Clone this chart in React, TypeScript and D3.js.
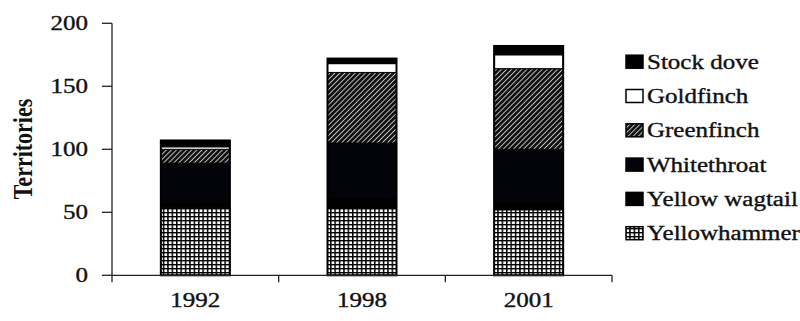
import React from 'react';
import * as d3 from 'd3';

// Breeding territories per species, stacked bottom to top
const categories = ['1992', '1998', '2001'];
const yellowhammer = [54, 53, 52];
const yellowWagtail = [4, 8, 6];
const whitethroat = [31, 44, 42];
const greenfinch = [11, 56, 64];
const goldfinch = [2, 7, 11];
const stockDove = [5, 4, 7];
const yTicks = [0, 50, 100, 150, 200];

const seriesKeys = ['Yellowhammer', 'Yellow wagtail', 'Whitethroat', 'Greenfinch', 'Goldfinch', 'Stock dove'];
const seriesValues = [yellowhammer, yellowWagtail, whitethroat, greenfinch, goldfinch, stockDove];
const seriesFill: Record<string, string> = {
  'Yellowhammer': 'url(#grid)',
  'Yellow wagtail': '#000',
  'Whitethroat': '#03030a',
  'Greenfinch': 'url(#hatch)',
  'Goldfinch': '#fff',
  'Stock dove': '#000',
};

const W = 800;
const H = 321;
const SX = 1.25; // horizontal glyph stretch
const FONT = '"Liberation Serif", "Times New Roman", serif';
const TEXT_STROKE = { stroke: '#111', strokeWidth: 0.35 };

export default function App() {
  const rows = categories.map((c, i) => {
    const r: Record<string, number | string> = { year: c };
    seriesKeys.forEach((k, j) => (r[k] = seriesValues[j][i]));
    return r;
  });
  const stacked = d3.stack<any>().keys(seriesKeys)(rows as any);

  const x = d3.scaleBand<string>().domain(categories).range([112, 612]).paddingInner(0.586).paddingOuter(0.293);
  const y = d3.scaleLinear().domain([0, 200]).range([275.3, 23.3]);

  const step = x.step();
  const boundaries = d3.range(categories.length + 1).map((i) => 112 + i * step);

  const legendItems = [...seriesKeys].reverse();

  return (
    <svg width={W} height={H} style={{ position: 'absolute', left: 0, top: 0, background: '#fff' }}>
      <defs>
        <pattern id="grid" patternUnits="userSpaceOnUse" width={4.4} height={4} x={0} y={0}>
          <rect width={4.4} height={4} fill="#fff" />
          <rect width={1.5} height={4} fill="#000" />
          <rect width={4.4} height={1.4} fill="#000" />
        </pattern>
        <pattern id="hatch" patternUnits="userSpaceOnUse" width={3.6} height={3.6} patternTransform="rotate(45)">
          <rect width={3.6} height={3.6} fill="#111" />
          <rect width={0.9} height={3.6} fill="#c8c8c8" />
        </pattern>
      </defs>

      {/* y axis */}
      <line x1={112} x2={112} y1={y(200)} y2={y(0)} stroke="#222" strokeWidth={1.3} />
      {yTicks.map((t) => (
        <g key={t}>
          <line x1={102} x2={112} y1={y(t)} y2={y(t)} stroke="#222" strokeWidth={1.3} />
          <g transform={`translate(88,${y(t) + 7}) scale(${SX},1)`}>
            <text textAnchor="end" fontFamily={FONT} fontSize={20} fill="#111" {...TEXT_STROKE}>{t}</text>
          </g>
        </g>
      ))}
      <g transform={`translate(32,149) scale(${SX},1) rotate(-90)`}>
        <text textAnchor="middle" fontFamily={FONT} fontSize={22} fontWeight="bold" fill="#111">Territories</text>
      </g>

      {/* stacked bars */}
      {stacked.map((s) => (
        <g key={s.key}>
          {s.map((d, i) => (
            <rect
              key={i}
              x={x(categories[i])}
              width={x.bandwidth()}
              y={y(d[1])}
              height={y(d[0]) - y(d[1])}
              fill={seriesFill[s.key]}
              stroke="#000"
              strokeWidth={1}
            />
          ))}
        </g>
      ))}
      {categories.map((c, i) => {
        const total = d3.sum(seriesValues, (v) => v[i]);
        return (
          <rect key={c} x={x(c)} width={x.bandwidth()} y={y(total)} height={y(0) - y(total)}
            fill="none" stroke="#000" strokeWidth={2} />
        );
      })}

      {/* x axis */}
      <line x1={112} x2={612} y1={y(0)} y2={y(0)} stroke="#222" strokeWidth={1.3} />
      {boundaries.map((b, i) => (
        <line key={i} x1={b} x2={b} y1={y(0)} y2={y(0) + 7} stroke="#222" strokeWidth={1.3} />
      ))}
      {categories.map((c) => (
        <g key={c} transform={`translate(${(x(c) as number) + x.bandwidth() / 2},307) scale(${SX},1)`}>
          <text textAnchor="middle" fontFamily={FONT} fontSize={20} fill="#111" {...TEXT_STROKE}>{c}</text>
        </g>
      ))}

      {/* legend */}
      {legendItems.map((k, i) => {
        const cy = 61.7 + i * 34.3;
        return (
          <g key={k}>
            <rect x={626} y={cy - 6.5} width={17} height={13} fill={seriesFill[k]} stroke="#000" strokeWidth={1.5} />
            <g transform={`translate(647,${cy + 7}) scale(${SX},1)`}>
              <text fontFamily={FONT} fontSize={20} fill="#111" {...TEXT_STROKE}>{k}</text>
            </g>
          </g>
        );
      })}
    </svg>
  );
}
